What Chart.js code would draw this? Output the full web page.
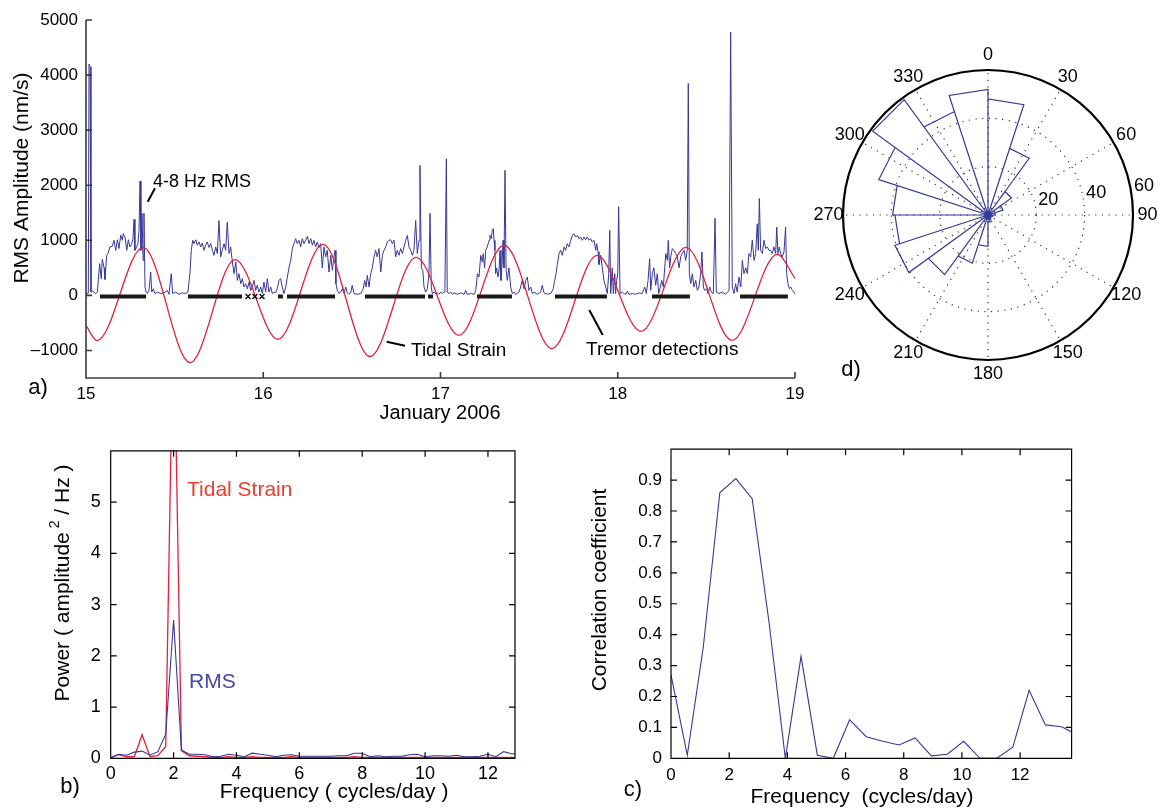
<!DOCTYPE html>
<html>
<head>
<meta charset="utf-8">
<title>Tremor and tides, January 2006</title>
<script src="https://cdn.jsdelivr.net/npm/chart.js@4.4.0/dist/chart.umd.min.js"></script>
<style>
  html, body { margin: 0; padding: 0; background: #fff; overflow: hidden; }
  #fig { position: relative; width: 1164px; height: 809px; }
  canvas { position: absolute; }
</style>
</head>
<body>
<div id="fig">
  <canvas id="tsChart" width="820" height="430" style="left:0;top:0"></canvas>
  <canvas id="psdChart" width="560" height="379" style="left:0;top:430px"></canvas>
  <canvas id="corrChart" width="604" height="379" style="left:560px;top:430px"></canvas>
  <canvas id="roseChart" width="376" height="400" style="left:788px;top:15px"></canvas>
</div>
<script>
// ---- a) 4-8 Hz RMS, tidal strain, tremor detections (days after 15 Jan 00:00)
const DAY0 = 15;
const rmsDays = [
  0.000,0.013,0.017,0.023,0.028,0.036,0.055,0.064,0.077,0.086,
  0.092,0.102,0.107,0.117,0.124,0.135,0.148,0.158,0.168,0.177,
  0.186,0.196,0.205,0.210,0.220,0.230,0.239,0.248,0.258,0.265,
  0.271,0.276,0.286,0.293,0.299,0.305,0.310,0.316,0.322,0.327,
  0.333,0.339,0.346,0.355,0.365,0.371,0.380,0.389,0.402,0.421,
  0.440,0.459,0.468,0.481,0.489,0.506,0.525,0.543,0.562,0.575,
  0.587,0.594,0.602,0.609,0.619,0.628,0.638,0.647,0.656,0.666,
  0.675,0.684,0.694,0.704,0.713,0.722,0.732,0.741,0.750,0.760,
  0.769,0.779,0.788,0.797,0.807,0.816,0.825,0.835,0.845,0.854,
  0.863,0.873,0.882,0.891,0.901,0.910,0.920,0.929,0.938,0.948,
  0.957,0.966,0.976,0.986,0.995,1.004,1.014,1.023,1.032,1.042,
  1.051,1.061,1.070,1.079,1.089,1.098,1.107,1.117,1.127,1.136,
  1.145,1.155,1.164,1.173,1.183,1.192,1.202,1.211,1.220,1.230,
  1.239,1.249,1.258,1.268,1.277,1.286,1.296,1.305,1.315,1.324,
  1.333,1.343,1.352,1.361,1.371,1.381,1.390,1.399,1.405,1.410,
  1.418,1.427,1.437,1.446,1.456,1.465,1.474,1.484,1.493,1.502,
  1.512,1.531,1.550,1.564,1.572,1.580,1.587,1.597,1.606,1.615,
  1.625,1.634,1.643,1.653,1.663,1.672,1.681,1.691,1.700,1.709,
  1.719,1.728,1.738,1.747,1.756,1.766,1.775,1.785,1.794,1.804,
  1.813,1.822,1.832,1.841,1.850,1.860,1.869,1.879,1.884,1.892,
  1.900,1.907,1.916,1.926,1.935,1.941,1.948,1.954,1.963,1.973,
  1.982,1.992,2.001,2.010,2.020,2.025,2.033,2.038,2.048,2.058,
  2.067,2.076,2.095,2.114,2.133,2.142,2.151,2.170,2.189,2.199,
  2.208,2.217,2.227,2.236,2.241,2.249,2.255,2.264,2.274,2.279,
  2.287,2.292,2.298,2.302,2.307,2.311,2.317,2.324,2.330,2.336,
  2.341,2.347,2.353,2.358,2.364,2.370,2.377,2.386,2.396,2.405,
  2.415,2.424,2.433,2.443,2.452,2.461,2.471,2.481,2.490,2.499,
  2.509,2.518,2.527,2.546,2.565,2.574,2.584,2.602,2.622,2.636,
  2.644,2.652,2.659,2.669,2.678,2.687,2.697,2.706,2.715,2.725,
  2.735,2.744,2.753,2.763,2.772,2.781,2.791,2.800,2.810,2.819,
  2.828,2.838,2.847,2.856,2.866,2.876,2.881,2.889,2.894,2.904,
  2.913,2.922,2.932,2.941,2.949,2.955,2.960,2.969,2.975,2.983,
  2.988,2.994,3.000,3.005,3.013,3.026,3.035,3.045,3.054,3.063,
  3.082,3.101,3.120,3.138,3.152,3.161,3.171,3.180,3.186,3.195,
  3.204,3.214,3.223,3.231,3.238,3.248,3.257,3.265,3.271,3.280,
  3.285,3.293,3.299,3.308,3.317,3.327,3.336,3.346,3.355,3.364,
  3.374,3.383,3.392,3.398,3.404,3.412,3.421,3.430,3.440,3.449,
  3.458,3.468,3.475,3.483,3.490,3.502,3.509,3.519,3.528,3.539,
  3.549,3.556,3.571,3.590,3.609,3.628,3.637,3.646,3.656,3.665,
  3.674,3.684,3.694,3.703,3.712,3.722,3.731,3.740,3.750,3.759,
  3.769,3.778,3.787,3.793,3.799,3.806,3.816,3.825,3.835,3.844,
  3.853,3.863,3.872,3.881,3.891,3.897,3.904,3.911,3.919,3.928,
  3.938,3.947,3.953,3.960,3.968,3.976,3.985,3.994,4.000
];
const rmsAmp = [
  30,40,4200,4150,60,78,33,63,576,300,
  655,500,290,727,760,880,890,1000,818,1010,
  850,1094,1000,1121,1060,818,1010,880,940,1030,
  1380,818,880,940,1180,2077,818,1490,636,1490,
  152,60,33,90,424,60,120,33,60,33,
  45,90,20,394,33,60,20,45,33,60,
  424,818,1000,940,1010,910,970,880,950,818,
  910,970,870,940,818,727,880,760,1360,700,
  820,940,818,1330,760,880,636,394,606,272,
  394,212,303,152,212,120,242,90,152,272,
  90,182,60,152,33,242,60,303,60,152,
  33,60,45,120,272,303,152,33,152,333,
  500,636,850,940,1030,940,1000,880,1030,940,
  1000,1072,940,1030,910,1000,880,970,870,940,
  500,880,700,818,424,727,455,700,818,212,
  90,33,60,120,33,152,45,20,45,182,
  33,20,33,120,272,152,364,152,394,500,
  700,818,700,850,424,727,818,880,970,1000,
  1010,940,1000,700,818,727,850,760,880,1000,
  1090,880,818,727,818,1360,760,1000,2360,500,
  455,152,60,120,394,1490,152,33,60,33,
  45,20,60,33,60,120,2480,60,33,60,
  20,45,20,45,20,90,20,33,20,90,
  394,333,727,606,760,500,818,880,1000,1090,
  1030,1180,1210,1000,818,394,500,333,455,818,
  272,560,1000,500,2270,455,272,500,152,33,
  60,20,33,60,152,272,120,272,333,90,
  152,33,60,20,60,182,45,20,33,120,
  272,394,560,760,818,727,880,818,940,880,
  1000,1090,1120,1060,1090,1030,1060,1000,1060,1010,
  1060,1000,1030,970,1000,818,940,790,560,727,
  500,272,152,33,394,1180,33,500,33,394,
  33,272,394,1610,33,60,33,20,78,20,
  33,20,45,33,152,33,272,667,90,394,
  500,182,394,33,120,272,152,500,760,636,
  1000,500,700,850,818,760,700,500,700,760,
  818,636,818,3850,394,212,394,152,272,90,
  152,394,790,152,90,120,33,152,60,33,
  1400,60,33,60,20,90,4780,152,33,212,
  60,333,152,636,394,500,394,760,700,1000,
  636,760,1300,818,1760,818,760,1000,850,880,
  818,818,760,880,760,1240,760,880,760,700,
  790,1240,394,212,120,152,90,60,20
];
// tidal strain: turning points
const tideDays   = [0.000,0.062,0.322,0.587,0.841,1.083,1.337,1.602,1.862,2.104,2.358,2.629,2.883,3.131,3.385,3.645,3.900,4.000];
const tideStrain = [-545,-820,873,-1220,650,-800,925,-1110,690,-727,910,-965,727,-655,873,-818,745,310];
// tremor detections: continuous runs and single detections
const tremorSpans = [[0.079,0.339],[0.575,0.880],[1.083,1.111],[1.134,1.405],[1.574,1.913],
                     [1.930,1.958],[2.206,2.403],[2.646,2.939],[3.193,3.407],[3.690,3.960]];
const tremorSingles = [0.914,0.953,0.993];
const TREMOR_LEVEL = -20;
const dayTicks = [15,16,17,18,19];
const ampTicks = [-1000,0,1000,2000,3000,4000,5000];

// ---- b) power spectra
const specFreq = [0,0.25,0.5,0.75,1,1.25,1.5,1.75,2,2.25,2.5,2.75,3,3.25,3.5,3.75,4,4.25,4.5,4.75,
  5,5.25,5.5,5.75,6,6.25,6.5,6.75,7,7.25,7.5,7.75,8,8.25,8.5,8.75,9,9.25,9.5,9.75,
  10,10.25,10.5,10.75,11,11.25,11.5,11.75,12,12.25,12.5,12.75,13];
const rmsPower = [0.01,0.08,0.06,0.12,0.14,0.06,0.13,0.47,2.70,0.16,0.08,0.08,0.07,
  0.03,0.04,0.08,0.06,0.03,0.10,0.08,0.06,0.03,0.06,0.07,0.04,0.04,0.04,0.04,0.04,
  0.05,0.05,0.10,0.10,0.03,0.05,0.03,0.04,0.04,0.07,0.08,0.03,0.05,0.05,0.04,0.06,
  0.03,0.03,0.04,0.08,0.03,0.13,0.09,0.08];
const tidePower = [0.01,0.07,0.03,0.03,0.46,0.03,0.05,0.23,9.0,0.15,0.05,0.04,0.03,
  0.02,0.02,0.03,0.02,0.02,0.03,0.02,0.02,0.02,0.02,
  0.03,0.02,0.02,0.02,0.02,0.02,0.02,0.02,0.03,0.02,
  0.02,0.02,0.02,0.02,0.02,0.02,0.02,0.02,0.02,0.02,
  0.02,0.02,0.02,0.02,0.02,0.02,0.02,0.02,0.02,0.02];
const freqTicksB = [0,2,4,6,8,10,12];
const powerTicks = [0,1,2,3,4,5];

// ---- c) correlation coefficient vs frequency
const corrFreq = [0,0.56,1.11,1.68,2.23,2.79,3.37,3.93,4.47,5.03,5.58,6.14,6.71,
  7.28,7.84,8.39,8.95,9.50,10.06,10.62,11.20,11.75,12.31,12.87,13.42,13.98];
const corrCoef = [0.27,0.01,0.36,0.86,0.905,0.84,0.44,0.0,0.33,0.01,0.0,0.125,0.07,
  0.055,0.043,0.066,0.008,0.013,0.055,0.0,0.0,0.036,0.22,0.108,0.102,0.075];
const freqTicksC = [0,2,4,6,8,10,12];
const corrTicks = [0,0.1,0.2,0.3,0.4,0.5,0.6,0.7,0.8,0.9];

// ---- d) rose diagram (degrees clockwise from north)
const roseBinEdges = [0,18,36,54,72,90,108,126,144,162,180,198,216,234,252,270,288,306,324,342,360];
const roseCounts = [48,29,12,6.5,3,2,1.5,1.5,2,3,13,21,30.5,40.5,38.5,39.5,47.5,59,45,52];
const roseRings = [20,40,60];
const roseAngles = [0,30,60,90,120,150,180,210,240,270,300,330];

const FONT = '"Liberation Sans", Arial, Helvetica, sans-serif';
const BLUE = '#37379a';
const RED = '#e5203a';

Chart.defaults.font.family = FONT;
Chart.defaults.color = '#000';
Chart.defaults.animation = false;
Chart.defaults.responsive = false;
Chart.defaults.devicePixelRatio = 1;
Chart.defaults.plugins.legend.display = false;
Chart.defaults.plugins.tooltip.enabled = false;

// inward ticks + axis lines (box for b and c)
const matlabAxes = {
  id: 'matlabAxes',
  afterDatasetsDraw(chart, args, o) {
    const { ctx, chartArea: a, scales: { x, y } } = chart;
    const L = o.len;
    ctx.save();
    ctx.strokeStyle = o.color;
    ctx.lineWidth = o.width;
    ctx.beginPath();
    if (o.box) {
      ctx.rect(a.left, a.top, a.right - a.left, a.bottom - a.top);
    } else {
      ctx.moveTo(a.left, a.top);
      ctx.lineTo(a.left, a.bottom);
      ctx.lineTo(a.right, a.bottom);
    }
    x.ticks.forEach(t => {
      const px = x.getPixelForValue(t.value);
      ctx.moveTo(px, a.bottom); ctx.lineTo(px, a.bottom - L);
      if (o.box) { ctx.moveTo(px, a.top); ctx.lineTo(px, a.top + L); }
    });
    y.ticks.forEach(t => {
      const py = y.getPixelForValue(t.value);
      ctx.moveTo(a.left, py); ctx.lineTo(a.left + L, py);
      if (o.box) { ctx.moveTo(a.right, py); ctx.lineTo(a.right - L, py); }
    });
    ctx.stroke();
    ctx.restore();
  }
};

// free text, leader lines, panel letters
const figText = {
  id: 'figText',
  afterDraw(chart, args, o) {
    const ctx = chart.ctx;
    o.items.forEach(it => {
      ctx.save();
      if (it.line) {
        ctx.strokeStyle = '#000';
        ctx.lineWidth = it.width || 2;
        ctx.beginPath();
        ctx.moveTo(it.line[0], it.line[1]);
        ctx.lineTo(it.line[2], it.line[3]);
        ctx.stroke();
      } else {
        ctx.translate(it.x, it.y);
        if (it.rot) ctx.rotate(it.rot * Math.PI / 180);
        const parts = it.parts || [{ t: it.t }];
        let total = 0;
        parts.forEach(p => {
          ctx.font = `${p.size || it.size}px ${FONT}`;
          p.w = ctx.measureText(p.t).width;
          total += p.w;
        });
        let cx = it.align === 'left' ? 0 : -total / 2;
        ctx.fillStyle = it.color || '#000';
        ctx.textAlign = 'left';
        ctx.textBaseline = 'middle';
        parts.forEach(p => {
          ctx.font = `${p.size || it.size}px ${FONT}`;
          ctx.fillText(p.t, cx, p.dy || 0);
          cx += p.w;
        });
      }
      ctx.restore();
    });
  }
};

function fixedTicks(list) {
  return scale => { scale.ticks = list.map(v => ({ value: v })); };
}

function axisOpts(min, max, tickList, size, pad, fit) {
  return {
    type: 'linear', min: min, max: max,
    grid: { display: false, drawTicks: false }, border: { display: false },
    afterBuildTicks: fixedTicks(tickList),
    afterFit: fit,
    ticks: { font: { size: size }, color: '#000', padding: pad, autoSkip: false, maxRotation: 0 }
  };
}

// ---------------- a) time series
const rmsPoints = rmsDays.map((d, i) => ({ x: DAY0 + d, y: rmsAmp[i] }));
const tidePoints = tideDays.map((d, i) => ({ x: DAY0 + d, y: tideStrain[i] }));
const tremorPoints = [];
tremorSpans.forEach(([s, e]) => {
  tremorPoints.push({ x: DAY0 + s, y: TREMOR_LEVEL }, { x: DAY0 + e, y: TREMOR_LEVEL }, { x: DAY0 + e, y: null });
});
const singlePoints = tremorSingles.map(d => ({ x: DAY0 + d, y: TREMOR_LEVEL }));

const yA = axisOpts(-1500, 5000, ampTicks, 17, 8, s => { s.width = 86; });
yA.ticks.callback = v => v < 0 ? '\u2013' + Math.abs(v) : String(v);

new Chart(document.getElementById('tsChart'), {
  type: 'scatter',
  data: {
    datasets: [
      { data: tremorPoints, showLine: true, borderColor: '#1a1a1a', borderWidth: 4, pointRadius: 0, spanGaps: false },
      { data: singlePoints, pointStyle: 'crossRot', pointRadius: 3.5, borderColor: '#111', borderWidth: 1.5 },
      { data: tidePoints, showLine: true, borderColor: RED, borderWidth: 1.3, pointRadius: 0, cubicInterpolationMode: 'monotone' },
      { data: rmsPoints, showLine: true, borderColor: BLUE, borderWidth: 1, pointRadius: 0 }
    ]
  },
  options: {
    layout: { padding: { left: 0, top: 20, right: 25, bottom: 0 } },
    scales: {
      x: axisOpts(15, 19, dayTicks, 17, 6, s => { s.height = 52; }),
      y: yA
    },
    plugins: {
      matlabAxes: { box: false, len: 6, color: '#3a3a3a', width: 1.6 },
      figText: { items: [
        { t: 'RMS Amplitude (nm/s)', x: 22, y: 178, size: 21, rot: -90 },
        { t: 'January 2006', x: 440, y: 413, size: 20 },
        { t: 'a)', x: 38, y: 388, size: 22 },
        { t: '4-8 Hz RMS', x: 153, y: 182, size: 18, align: 'left' },
        { line: [147.7, 201.7, 155, 188.3] },
        { t: 'Tidal Strain', x: 411, y: 351, size: 19, align: 'left' },
        { line: [386.7, 341.7, 405, 345.7] },
        { t: 'Tremor detections', x: 586, y: 350, size: 19, align: 'left' },
        { line: [589.3, 310, 602.7, 335] }
      ] }
    }
  },
  plugins: [matlabAxes, figText]
});

// ---------------- b) power spectra
new Chart(document.getElementById('psdChart'), {
  type: 'scatter',
  data: {
    datasets: [
      { data: specFreq.map((f, i) => ({ x: f, y: rmsPower[i] })), showLine: true, borderColor: BLUE, borderWidth: 1.1, pointRadius: 0 },
      { data: specFreq.map((f, i) => ({ x: f, y: tidePower[i] })), showLine: true, borderColor: RED, borderWidth: 1.3, pointRadius: 0 }
    ]
  },
  options: {
    layout: { padding: { left: 0, top: 10.7, right: 45, bottom: 0 } },
    scales: {
      x: axisOpts(0, 12.86, freqTicksB, 18, 5, s => { s.height = 50.7; }),
      y: axisOpts(0, 6, powerTicks, 18, 10, s => { s.width = 110.7; })
    },
    plugins: {
      matlabAxes: { box: true, len: 6, color: '#000', width: 1.2 },
      figText: { items: [
        { x: 63, y: 153, size: 21, rot: -90, parts: [
          { t: 'Power ( amplitude' }, { t: ' 2', size: 14, dy: -8 }, { t: ' / Hz )' }
        ] },
        { t: 'Frequency ( cycles/day )', x: 334, y: 362, size: 21 },
        { t: 'b)', x: 70, y: 357, size: 22 },
        { t: 'Tidal Strain', x: 187, y: 60, size: 21, color: '#e8402c', align: 'left' },
        { t: 'RMS', x: 189, y: 252, size: 21, color: '#4848a2', align: 'left' }
      ] }
    }
  },
  plugins: [matlabAxes, figText]
});

// ---------------- c) correlation coefficient
new Chart(document.getElementById('corrChart'), {
  type: 'scatter',
  data: {
    datasets: [
      { data: corrFreq.map((f, i) => ({ x: f, y: corrCoef[i] })), showLine: true, borderColor: BLUE, borderWidth: 1.1, pointRadius: 0 }
    ]
  },
  options: {
    layout: { padding: { left: 0, top: 13.3, right: 92.4, bottom: 0 } },
    scales: {
      x: axisOpts(0, 13.77, freqTicksC, 17, 7, s => { s.height = 50.7; }),
      y: axisOpts(0, 1, corrTicks, 17, 9, s => { s.width = 111; })
    },
    plugins: {
      matlabAxes: { box: true, len: 6, color: '#000', width: 1.2 },
      figText: { items: [
        { t: 'Correlation coefficient', x: 40, y: 160, size: 21, rot: -90 },
        { t: 'Frequency  (cycles/day)', x: 302, y: 367, size: 21 },
        { t: 'c)', x: 73, y: 360, size: 22 }
      ] }
    }
  },
  plugins: [matlabAxes, figText]
});

// ---------------- d) rose diagram
const ROSE_W = 376, ROSE_H = 400, ROSE_CX = 200, ROSE_CY = 200;
const rosePxPerUnit = 145 / roseRings[roseRings.length - 1];
const rosePoints = [];
roseCounts.forEach((c, i) => {
  const a0 = roseBinEdges[i] * Math.PI / 180;
  const a1 = roseBinEdges[i + 1] * Math.PI / 180;
  rosePoints.push(
    { x: 0, y: 0 },
    { x: c * Math.sin(a0), y: c * Math.cos(a0) },
    { x: c * Math.sin(a1), y: c * Math.cos(a1) },
    { x: 0, y: 0 }
  );
});

const polarGrid = {
  id: 'polarGrid',
  beforeDatasetsDraw(chart) {
    const { ctx, scales: { x, y } } = chart;
    const cx = x.getPixelForValue(0), cy = y.getPixelForValue(0);
    const k = x.getPixelForValue(1) - cx;
    const rmax = roseRings[roseRings.length - 1];
    ctx.save();
    ctx.strokeStyle = '#333';
    ctx.lineWidth = 1.2;
    ctx.setLineDash([1.2, 5.5]);
    roseRings.slice(0, -1).forEach(r => {
      ctx.beginPath(); ctx.arc(cx, cy, r * k, 0, 2 * Math.PI); ctx.stroke();
    });
    roseAngles.forEach(d => {
      const th = d * Math.PI / 180;
      ctx.beginPath();
      ctx.moveTo(cx, cy);
      ctx.lineTo(cx + rmax * k * Math.sin(th), cy - rmax * k * Math.cos(th));
      ctx.stroke();
    });
    ctx.setLineDash([]);
    ctx.strokeStyle = '#000';
    ctx.lineWidth = 2.2;
    ctx.beginPath(); ctx.arc(cx, cy, rmax * k, 0, 2 * Math.PI); ctx.stroke();

    ctx.fillStyle = '#000';
    ctx.font = `18px ${FONT}`;
    ctx.textAlign = 'center';
    ctx.textBaseline = 'middle';
    roseAngles.forEach(d => {
      const th = d * Math.PI / 180;
      const rr = 1.1 * rmax * k;
      ctx.fillText(String(d), cx + rr * Math.sin(th), cy - rr * Math.cos(th));
    });
    ctx.textAlign = 'left';
    ctx.textBaseline = 'bottom';
    const a82 = 82 * Math.PI / 180;
    roseRings.forEach(r => {
      const rr = (r + 1) * k;
      ctx.fillText(String(r), cx + rr * Math.sin(a82), cy - rr * Math.cos(a82) + 1);
    });
    ctx.restore();
  }
};

new Chart(document.getElementById('roseChart'), {
  type: 'scatter',
  data: {
    datasets: [
      { data: rosePoints, showLine: true, borderColor: BLUE, borderWidth: 1.2, pointRadius: 0 }
    ]
  },
  options: {
    layout: { padding: 0 },
    scales: {
      x: { type: 'linear', display: false, min: -ROSE_CX / rosePxPerUnit, max: (ROSE_W - ROSE_CX) / rosePxPerUnit },
      y: { type: 'linear', display: false, min: -(ROSE_H - ROSE_CY) / rosePxPerUnit, max: ROSE_CY / rosePxPerUnit }
    },
    plugins: {
      figText: { items: [ { t: 'd)', x: 63, y: 355, size: 22 } ] }
    }
  },
  plugins: [polarGrid, figText]
});
</script>
</body>
</html>
